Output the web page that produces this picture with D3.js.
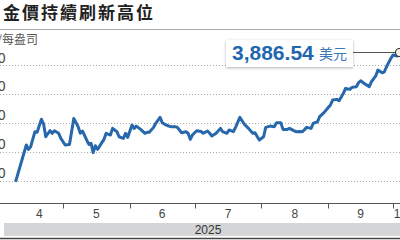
<!DOCTYPE html>
<meta charset="utf-8">
<style>
body { margin: 0; background: #fff; }
svg { display: block; font-family: "Liberation Sans", Arial, sans-serif; }
.grid line { stroke: #aaa; stroke-dasharray: 1,2; }
.cjk { font-family: "Noto Sans CJK TC", "Noto Sans CJK SC", sans-serif; }
</style>
<svg width="400" height="240"></svg>
<script src="https://d3js.org/d3.v7.min.js"></script>
<script>

var dates = ["04-09","04-14","04-15","04-16","04-18","04-19","04-21","04-22","04-23","04-25",
  "04-26","04-27","04-29","04-30","05-02","05-04","05-06","05-08","05-09","05-10",
  "05-12","05-13","05-14","05-15","05-16","05-17","05-20","05-21","05-23","05-24",
  "05-26","05-27","05-29","05-30","05-31","06-02","06-03","06-04","06-06","06-08",
  "06-09","06-10","06-12","06-13","06-15","06-16","06-17","06-19","06-20","06-22",
  "06-23","06-25","06-27","06-28","06-29","06-30","07-02","07-04","07-05","07-07",
  "07-08","07-09","07-11","07-13","07-14","07-16","07-17","07-19","07-20","07-22",
  "07-24","07-26","07-28","07-29","07-31","08-02","08-03","08-05","08-07","08-08",
  "08-10","08-11","08-13","08-14","08-16","08-17","08-19","08-20","08-22","08-24",
  "08-25","08-27","08-28","08-30","08-31","09-02","09-03","09-05","09-06","09-08",
  "09-09","09-11","09-12","09-14","09-15","09-16","09-18","09-20","09-21","09-23",
  "09-24","09-26","09-27","09-28","09-30","10-01","10-03","10-04"];

var prices = [2990,3246,3216,3234,3338,3334,3424,3391,3303,3345,
  3327,3345,3327,3292,3246,3250,3430,3373,3327,3343,
  3280,3250,3257,3193,3241,3216,3285,3327,3315,3361,
  3338,3303,3292,3327,3299,3384,3361,3377,3354,3327,
  3334,3334,3368,3396,3437,3400,3391,3377,3373,3373,
  3368,3331,3338,3327,3285,3315,3345,3340,3327,3343,
  3327,3308,3327,3361,3338,3327,3350,3338,3368,3437,
  3391,3361,3327,3331,3280,3303,3368,3377,3373,3400,
  3400,3354,3354,3361,3345,3338,3340,3338,3368,3361,
  3396,3407,3442,3470,3488,3523,3557,3562,3553,3604,
  3638,3631,3645,3650,3677,3691,3668,3650,3684,3724,
  3765,3746,3753,3788,3846,3869,3862,3886.54];

var yTicks = [3000, 3200, 3400, 3600, 3800];
var monthLabels = ["4", "5", "6", "7", "8", "9", "10"];
var monthStarts = ["05-01", "06-01", "07-01", "08-01", "09-01", "10-01"];
var yearLabel = "2025";
var title = "金價持續刷新高位";
var unitLabel = "美元/每盎司";
var lastLabel = "3,886.54";
var lastUnit = "美元";

var parse = d3.utcParse("%Y-%m-%d");
var toDate = function (s) { return parse("2025-" + s); };

var data = dates.map(function (d, i) { return { date: toDate(d), value: prices[i] }; });

var svg = d3.select("svg");

var x = d3.scaleUtc()
    .domain([toDate("05-01"), toDate("10-01")])
    .range([63, 393]);

var y = d3.scaleLinear()
    .domain([3000, 3800])
    .range([180.5, 65]);

// shadow for the callout box
var defs = svg.append("defs");
defs.append("filter").attr("id", "shadow")
    .attr("x", "-20%").attr("y", "-30%").attr("width", "140%").attr("height", "160%")
  .append("feDropShadow")
    .attr("dx", 0).attr("dy", 1).attr("stdDeviation", 1.5)
    .attr("flood-color", "#000").attr("flood-opacity", 0.3);

// title
svg.append("text")
    .attr("class", "cjk")
    .attr("x", 3).attr("y", 19)
    .attr("font-size", 17).attr("font-weight", "bold")
    .attr("letter-spacing", 2)
    .attr("fill", "#222")
    .text(title);

svg.append("line")
    .attr("x1", 0).attr("x2", 400).attr("y1", 29.5).attr("y2", 29.5)
    .attr("stroke", "#aaa");

svg.append("text")
    .attr("class", "cjk")
    .attr("x", 38).attr("y", 44)
    .attr("text-anchor", "end")
    .attr("font-size", 12).attr("fill", "#555")
    .text(unitLabel);

// grid
svg.append("g").attr("class", "grid")
  .selectAll("line")
  .data(yTicks)
  .enter().append("line")
    .attr("x1", 0).attr("x2", 400)
    .attr("y1", function (d) { return Math.round(y(d)) + 0.5; })
    .attr("y2", function (d) { return Math.round(y(d)) + 0.5; });

svg.append("g")
  .selectAll("text")
  .data(yTicks)
  .enter().append("text")
    .attr("x", 5.5)
    .attr("y", function (d) { return y(d) - 2.5; })
    .attr("text-anchor", "end")
    .attr("font-size", 14).attr("fill", "#444")
    .text(d3.format(","));

// x axis
var axisY = 203.5;
svg.append("line")
    .attr("x1", 0).attr("x2", 400).attr("y1", axisY).attr("y2", axisY)
    .attr("stroke", "#555");

svg.append("g")
  .selectAll("line")
  .data(monthStarts)
  .enter().append("line")
    .attr("x1", function (d) { return Math.round(x(toDate(d))) + 0.5; })
    .attr("x2", function (d) { return Math.round(x(toDate(d))) + 0.5; })
    .attr("y1", axisY).attr("y2", axisY + 5)
    .attr("stroke", "#555");

// label positions: centre of each month's shown span
var spans = [[data[0].date, toDate("05-01")]];
for (var m = 0; m < monthStarts.length - 1; m++) {
  spans.push([toDate(monthStarts[m]), toDate(monthStarts[m + 1])]);
}
spans.push([toDate("10-01"), toDate("10-08")]);

svg.append("g")
  .selectAll("text")
  .data(monthLabels)
  .enter().append("text")
    .attr("x", function (d, i) { return (x(spans[i][0]) + x(spans[i][1])) / 2; })
    .attr("y", 218)
    .attr("text-anchor", "middle")
    .attr("font-size", 12).attr("fill", "#444")
    .text(function (d) { return d; });

svg.append("rect")
    .attr("x", 4).attr("y", 223).attr("width", 400).attr("height", 13)
    .attr("fill", "#d3d5d7");

svg.append("text")
    .attr("x", 208).attr("y", 233.5)
    .attr("text-anchor", "middle")
    .attr("font-size", 12).attr("fill", "#333")
    .text(yearLabel);

svg.append("line")
    .attr("x1", 0).attr("x2", 400).attr("y1", 238.5).attr("y2", 238.5)
    .attr("stroke", "#444").attr("stroke-width", 1.5);

// price line
var line = d3.line()
    .x(function (d) { return x(d.date); })
    .y(function (d) { return y(d.value); });

svg.append("path")
    .datum(data)
    .attr("fill", "none")
    .attr("stroke", "#2767ab")
    .attr("stroke-width", 3)
    .attr("stroke-linejoin", "round")
    .attr("d", line);

// callout
var last = data[data.length - 1];
var lx = x(last.date), ly = y(last.value);

svg.append("line")
    .attr("x1", 353).attr("x2", lx - 4)
    .attr("y1", ly).attr("y2", ly)
    .attr("stroke", "#555");

svg.append("rect")
    .attr("x", 226).attr("y", 40).attr("width", 127).attr("height", 27)
    .attr("fill", "#fff")
    .attr("filter", "url(#shadow)");

svg.append("text")
    .attr("x", 232).attr("y", 60)
    .attr("font-size", 21).attr("font-weight", "bold")
    .attr("fill", "#1f67ae")
    .text(lastLabel);

svg.append("text")
    .attr("class", "cjk")
    .attr("x", 319).attr("y", 59)
    .attr("font-size", 14).attr("fill", "#3a78b8")
    .text(lastUnit);

svg.append("circle")
    .attr("cx", lx).attr("cy", ly).attr("r", 4)
    .attr("fill", "#f7f3e6")
    .attr("stroke", "#333").attr("stroke-width", 1.2);

</script>
